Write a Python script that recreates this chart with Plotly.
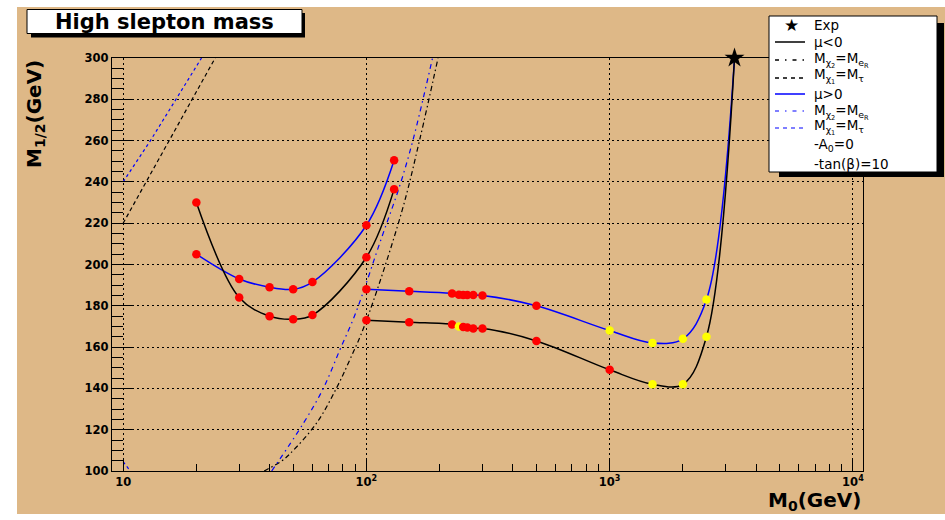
import plotly.graph_objects as go
import math

# mSUGRA scan boundary in the (M0, M1/2) plane, A0 = 0, tan(beta) = 10
m0_left = [20, 30, 40, 50, 60, 100, 130]
m12_neg_left = [230, 184, 175, 173.5, 175.5, 203.5, 236.5]
m12_pos_left = [205, 193, 189, 188, 191.5, 219, 250.5]

m0_right = [100, 150, 225, 240, 250, 260, 275, 300, 500, 1000, 1500, 2000, 2500]
m12_neg_right = [173, 172, 171, 170, 169.7, 169.5, 169, 169, 163, 149, 142, 142, 165]
m12_pos_right = [188, 187, 186, 185.3, 185.2, 185.2, 185.2, 185, 180, 168, 162, 164, 183]

# scan points belonging to the second class (drawn in yellow)
class2_neg_right = [240, 1500, 2000, 2500]
class2_pos_right = [1000, 1500, 2000, 2500]

# experimental point
exp_m0 = [3260]
exp_m12 = [300]

# M_chi1 = M_stau boundaries
stau_neg_m0 = [10, 15.4, 23.9]
stau_neg_m12 = [220, 260, 300]
stau_pos_m0 = [10, 12.95, 21]
stau_pos_m12 = [240, 260, 300]

# M_chi2 = M_eR boundaries
er_neg_m0 = [38, 45, 48.5, 62.4, 75.3, 85.5, 98.6, 139.3, 165.8, 197]
er_neg_m12 = [100, 105, 108.3, 123.2, 140.1, 153.9, 170.9, 225, 260.7, 300]
er_pos_m0 = [40.8, 55, 66.5, 78, 90, 115.5, 137, 156, 187]
er_pos_m12 = [100, 123, 140, 159, 176, 213, 238, 261, 300]
er_pos_low_m0 = [10, 10.7]
er_pos_low_m12 = [104.5, 100]

y_ticks = [100, 120, 140, 160, 180, 200, 220, 240, 260, 280, 300]
x_ticks = [10, 100, 1000, 10000]
x_ticktext = ["10", "10<sup>2</sup>", "10<sup>3</sup>", "10<sup>4</sup>"]

legend_labels = [
    "Exp",
    "μ<0",
    "M<sub>χ<sub>2</sub></sub>=M<sub>e<sub>R</sub></sub>",
    "M<sub>χ<sub>1</sub></sub>=M<sub>τ</sub>",
    "μ>0",
    "M<sub>χ<sub>2</sub></sub>=M<sub>e<sub>R</sub></sub>",
    "M<sub>χ<sub>1</sub></sub>=M<sub>τ</sub>",
    "-A<sub>0</sub>=0",
    "-tan(β)=10",
]

W, H = 945, 520
L, R, T, B = 112, 82, 58, 49
PW, PH = W - L - R, H - T - B

TAN = "#deb887"
BLUE = "#0000ff"
RED = "#ff0000"
YELLOW = "#ffff00"
FONT = "DejaVu Sans"


def fx(px):
    return (px - L) / PW


def fy(py):
    return (H - B - py) / PH


fig = go.Figure()


def curve(x, y, color, dash="solid", shape="spline", width=1.5):
    fig.add_trace(go.Scatter(
        x=x, y=y, mode="lines",
        line=dict(color=color, width=width, dash=dash, shape=shape),
        hoverinfo="skip", showlegend=False,
    ))


# kinematic boundaries
curve(stau_neg_m0, stau_neg_m12, "black", "4px,3px", "linear", 1.2)
curve(stau_pos_m0, stau_pos_m12, BLUE, "3px,3px", "linear", 1.2)
curve(er_neg_m0, er_neg_m12, "black", "5px,3px,1.5px,3px", "spline", 1.2)
curve(er_pos_m0, er_pos_m12, BLUE, "5px,4px,1.5px,4px", "spline", 1.2)
curve(er_pos_low_m0, er_pos_low_m12, BLUE, "3px,3px", "linear", 1.2)

# scan contours
curve(m0_left, m12_pos_left, BLUE)
curve(m0_left, m12_neg_left, "black")
curve(m0_right + exp_m0, m12_pos_right + exp_m12, BLUE)
curve(m0_right + exp_m0, m12_neg_right + exp_m12, "black")


def points(x, y, flagged):
    cols = [YELLOW if v in flagged else RED for v in x]
    fig.add_trace(go.Scatter(
        x=x, y=y, mode="markers",
        marker=dict(color=cols, size=8.5, line=dict(width=0)),
        hoverinfo="skip", showlegend=False, cliponaxis=False,
    ))


points(m0_left, m12_pos_left, [])
points(m0_left, m12_neg_left, [])
points(m0_right, m12_pos_right, class2_pos_right)
points(m0_right, m12_neg_right, class2_neg_right)

fig.add_trace(go.Scatter(
    x=exp_m0, y=exp_m12, mode="markers",
    marker=dict(symbol="star", color="black", size=15, line=dict(width=0)),
    hoverinfo="skip", showlegend=False, cliponaxis=False,
))

shapes = []
# canvas fill
shapes.append(dict(type="rect", xref="paper", yref="paper", layer="below",
                   x0=fx(17), x1=fx(945), y0=fy(7), y1=fy(514),
                   fillcolor=TAN, line=dict(width=0)))

# title box with shadow
shapes.append(dict(type="rect", xref="paper", yref="paper",
                   x0=fx(31), x1=fx(305), y0=fy(13), y1=fy(37.5),
                   fillcolor="black", line=dict(width=0)))
shapes.append(dict(type="rect", xref="paper", yref="paper",
                   x0=fx(27), x1=fx(302), y0=fy(9.5), y1=fy(33.5),
                   fillcolor="white", line=dict(color="black", width=1)))

# legend box with shadow
shapes.append(dict(type="rect", xref="paper", yref="paper",
                   x0=fx(779), x1=fx(944), y0=fy(23), y1=fy(177),
                   fillcolor="black", line=dict(width=0)))
shapes.append(dict(type="rect", xref="paper", yref="paper",
                   x0=fx(769), x1=fx(937), y0=fy(16), y1=fy(172),
                   fillcolor="white", line=dict(color="black", width=1)))

# legend line samples
samples = [
    (42, "black", "solid"),
    (60, "black", "4px,6px,1.5px,6px"),
    (78, "black", "4px,4px"),
    (94, BLUE, "solid"),
    (111, "#5555ff", "4px,6px,1.5px,6px"),
    (128, "#5555ff", "4px,4px"),
]
for yy, col, dash in samples:
    shapes.append(dict(type="line", xref="paper", yref="paper",
                       x0=fx(775), x1=fx(805), y0=fy(yy), y1=fy(yy),
                       line=dict(color=col, width=1.5, dash=dash)))

annotations = []
annotations.append(dict(xref="paper", yref="paper", x=fx(164.5), y=fy(21.5),
                        text="High slepton mass", showarrow=False,
                        xanchor="center", yanchor="middle",
                        font=dict(family=FONT, size=21, color="black", weight="bold")))

legend_y = [25, 42, 60.5, 76, 94, 111.5, 127, 145, 163.5]
for yy, txt in zip(legend_y, legend_labels):
    annotations.append(dict(xref="paper", yref="paper", x=fx(812), y=fy(yy),
                            text=txt, showarrow=False, xanchor="left", yanchor="middle",
                            font=dict(family=FONT, size=13.5, color="black")))
annotations.append(dict(xref="paper", yref="paper", x=fx(791.5), y=fy(25),
                        text="★", showarrow=False, xanchor="center", yanchor="middle",
                        font=dict(family=FONT, size=17, color="black")))

# axis titles
annotations.append(dict(xref="paper", yref="paper", x=fx(35), y=1.0,
                        text="M<sub>1/2</sub>(GeV)", showarrow=False, textangle=-90,
                        xanchor="center", yanchor="top",
                        font=dict(family=FONT, size=20, color="black", weight="bold")))
annotations.append(dict(xref="paper", yref="paper", x=1.0, y=fy(486),
                        text="M<sub>0</sub>(GeV)", showarrow=False,
                        xanchor="right", yanchor="top",
                        font=dict(family=FONT, size=20, color="black", weight="bold")))

grid_dash = "2px,3px"
minor_x = [v * d for d in (10, 100, 1000) for v in range(2, 10)]

fig.update_layout(
    width=W, height=H,
    margin=dict(l=L, r=R, t=T, b=B, pad=0),
    paper_bgcolor="white",
    plot_bgcolor=TAN,
    shapes=shapes,
    annotations=annotations,
    showlegend=False,
    xaxis=dict(
        type="log", range=[math.log10(9), math.log10(11000)],
        tickmode="array", tickvals=x_ticks, ticktext=x_ticktext,
        ticks="inside", ticklen=13, tickwidth=1, tickcolor="black",
        showline=True, linecolor="black", linewidth=1.2, mirror=True,
        showgrid=True, gridcolor="black", gridwidth=1, griddash=grid_dash,
        zeroline=False,
        tickfont=dict(family=FONT, size=11.5, color="black", weight="bold"),
        minor=dict(tickmode="array", tickvals=minor_x, ticks="inside",
                   ticklen=7, tickwidth=1, tickcolor="black", showgrid=False),
    ),
    yaxis=dict(
        range=[100, 300],
        tickmode="array", tickvals=y_ticks,
        ticks="inside", ticklen=22, tickwidth=1, tickcolor="black",
        showline=True, linecolor="black", linewidth=1.2, mirror=True,
        showgrid=True, gridcolor="black", gridwidth=1, griddash=grid_dash,
        zeroline=False,
        tickfont=dict(family=FONT, size=11.5, color="black", weight="bold"),
        minor=dict(dtick=5, tick0=100, ticks="inside", ticklen=11, tickwidth=1,
                   tickcolor="black", showgrid=False),
    ),
)

fig.write_html("out.html")
